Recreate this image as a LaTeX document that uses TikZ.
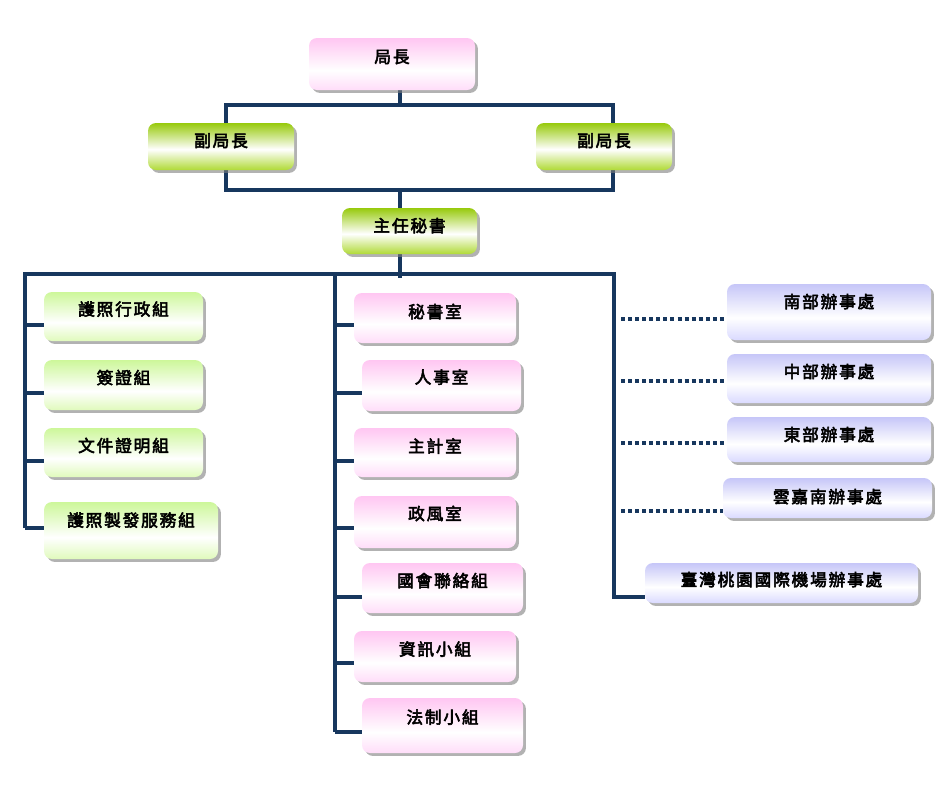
\documentclass[tikz,border=0pt]{standalone}
\usepackage{fontspec}
\newfontfamily\cjk[FakeBold=3.2,LetterSpace=11]{Noto Sans CJK TC}
\usetikzlibrary{shadows,calc,backgrounds}
\definecolor{navy}{HTML}{17375E}
\definecolor{pkT}{HTML}{FFC6F2}
\definecolor{pkB}{HTML}{FFDDF9}
\definecolor{gT}{HTML}{97CA0C}
\definecolor{gB}{HTML}{B0DA36}
\definecolor{lgT}{HTML}{CDF79A}
\definecolor{lgB}{HTML}{E0FABC}
\definecolor{lvT}{HTML}{C6C6F8}
\definecolor{lvB}{HTML}{DADAFF}
\pgfdeclareverticalshading{pinkg}{100bp}{color(0bp)=(pkB); color(25bp)=(pkB); color(44bp)=(white); color(75bp)=(pkT); color(100bp)=(pkT)}
\pgfdeclareverticalshading{greeng}{100bp}{color(0bp)=(gB); color(25bp)=(gB); color(47bp)=(white); color(75bp)=(gT); color(100bp)=(gT)}
\pgfdeclareverticalshading{lgreeng}{100bp}{color(0bp)=(lgB); color(25bp)=(lgB); color(44bp)=(white); color(75bp)=(lgT); color(100bp)=(lgT)}
\pgfdeclareverticalshading{lavg}{100bp}{color(0bp)=(lvB); color(25bp)=(lvB); color(45bp)=(white); color(75bp)=(lvT); color(100bp)=(lvT)}
\begin{document}
\begin{tikzpicture}[x=0.75pt,y=-0.75pt,
  box/.style={rounded corners=6pt, inner sep=0pt, text height=10pt,
    font=\cjk\fontsize{12.5}{14}\selectfont,
    drop shadow={shadow xshift=2.2pt,shadow yshift=-2.2pt,opacity=0.6}},
  pinkbox/.style={box, shading=pinkg},
  greenbox/.style={box, shading=greeng},
  lgbox/.style={box, shading=lgreeng},
  lavbox/.style={box, shading=lavg},
  wh/.style 2 args={minimum width={#1*0.75pt}, minimum height={#2*0.75pt}},
  conn/.style={draw=navy, line width=3pt, line join=miter},
  dotconn/.style={draw=navy, line width=3pt, dash pattern=on 3pt off 2.3pt}]
\useasboundingbox (0,0) rectangle (942,786);
% top
\node[pinkbox, wh={166}{52}, text depth=11.6pt] (chief) at (392,64) {局長};
\node[greenbox, wh={146}{47}, text depth=9.4pt] (dep1) at (221,146.5) {副局長};
\node[greenbox, wh={136}{47}, text depth=9.4pt] (dep2) at (604,146.5) {副局長};
\node[greenbox, wh={135}{46}, text depth=8.6pt] (sec) at (409.5,231) {主任秘書};
% left column
\node[lgbox, wh={159}{49}, text depth=11.6pt] (L1) at (123.5,316.5) {護照行政組};
\node[lgbox, wh={159}{50}, text depth=11.6pt] (L2) at (123.5,385) {簽證組};
\node[lgbox, wh={159}{49}, text depth=10.9pt] (L3) at (123.5,452.5) {文件證明組};
\node[lgbox, wh={174}{57}, text depth=16.1pt] (L4) at (131,530.5) {護照製發服務組};
% middle column
\node[pinkbox, wh={162}{50}, text depth=10.1pt] (M1) at (435,318) {秘書室};
\node[pinkbox, wh={159}{51}, text depth=13.1pt] (M2) at (441.5,385.5) {人事室};
\node[pinkbox, wh={162}{49}, text depth=10.1pt] (M3) at (435,452.5) {主計室};
\node[pinkbox, wh={162}{52}, text depth=13.1pt] (M4) at (435,522) {政風室};
\node[pinkbox, wh={161}{50}, text depth=11.6pt] (M5) at (442.5,588) {國會聯絡組};
\node[pinkbox, wh={162}{51}, text depth=11.6pt] (M6) at (435,656.5) {資訊小組};
\node[pinkbox, wh={161}{55}, text depth=13.1pt] (M7) at (442.5,725.5) {法制小組};
% right column
\node[lavbox, wh={204}{56}, text depth=16.1pt] (R1) at (829,312) {南部辦事處};
\node[lavbox, wh={204}{49}, text depth=10.9pt] (R2) at (829,378.5) {中部辦事處};
\node[lavbox, wh={204}{45}, text depth=7.9pt] (R3) at (829,439.5) {東部辦事處};
\node[lavbox, wh={209}{40}, text depth=2.6pt] (R4) at (827.5,498) {雲嘉南辦事處};
\node[lavbox, wh={273}{40}, text depth=5.6pt] (R5) at (781.5,583) {臺灣桃園國際機場辦事處};
% junction coordinates
\coordinate (c1) at (400,105);
\coordinate (a1) at (226,105);
\coordinate (a2) at (613,105);
\coordinate (b1) at (226,190);
\coordinate (b2) at (613,190);
\coordinate (d1) at (400,190);
\coordinate (e1) at (400,278);
\coordinate (Lv) at (25,274);
\coordinate (Mv) at (335,274);
\coordinate (Rv) at (614,274);
\coordinate (Rd) at (621,274);
% tick points
\coordinate (tL1) at ($(L1.west)+(0,8.5)$);
\coordinate (tL2) at ($(L2.west)+(0,8)$);
\coordinate (tL3) at ($(L3.west)+(0,8.5)$);
\coordinate (tL4) at ($(L4.west)+(0,-2.5)$);
\coordinate (tM1) at ($(M1.west)+(0,7)$);
\coordinate (tM2) at ($(M2.west)+(0,7.5)$);
\coordinate (tM3) at ($(M3.west)+(0,8.5)$);
\coordinate (tM4) at ($(M4.west)+(0,6)$);
\coordinate (tM5) at ($(M5.west)+(0,9)$);
\coordinate (tM6) at ($(M6.west)+(0,6.5)$);
\coordinate (tM7) at ($(M7.west)+(0,6.5)$);
\coordinate (tR1) at ($(R1.west)+(0,7)$);
\coordinate (tR2) at ($(R2.west)+(0,2.5)$);
\coordinate (tR3) at ($(R3.west)+(0,3.5)$);
\coordinate (tR4) at ($(R4.west)+(0,13)$);
\coordinate (tR5) at ($(R5.west)+(0,13.5)$);
\begin{scope}[on background layer]
\fill[white] (0,0) rectangle (942,786);
% top connectors
\draw[conn] (chief.south -| c1) -- (c1);
\draw[conn] (dep1.north -| a1) -- (a1) -- (a2) -- (dep2.north -| a2);
\draw[conn] (dep1.south -| b1) -- (b1) -- (b2) -- (dep2.south -| b2);
\draw[conn] (d1) -- (sec.north -| d1);
\draw[conn] (sec.south -| e1) -- (e1);
% main bus with left and right verticals
\draw[conn] (tL4 -| Lv) -- (Lv) -- (Rv) -- (tR5 -| Rv) -- (tR5);
\draw[conn] (Mv) -- (tM7 -| Mv);
% left ticks
\foreach \t in {tL1,tL2,tL3,tL4} \draw[conn] (\t -| Lv) -- (\t);
% middle ticks
\foreach \t in {tM1,tM2,tM3,tM4,tM5,tM6,tM7} \draw[conn] (\t -| Mv) -- (\t);
% dotted links
\foreach \t in {tR1,tR2,tR3,tR4} \draw[dotconn] (\t -| Rd) -- (\t);
\end{scope}
\end{tikzpicture}
\end{document}
